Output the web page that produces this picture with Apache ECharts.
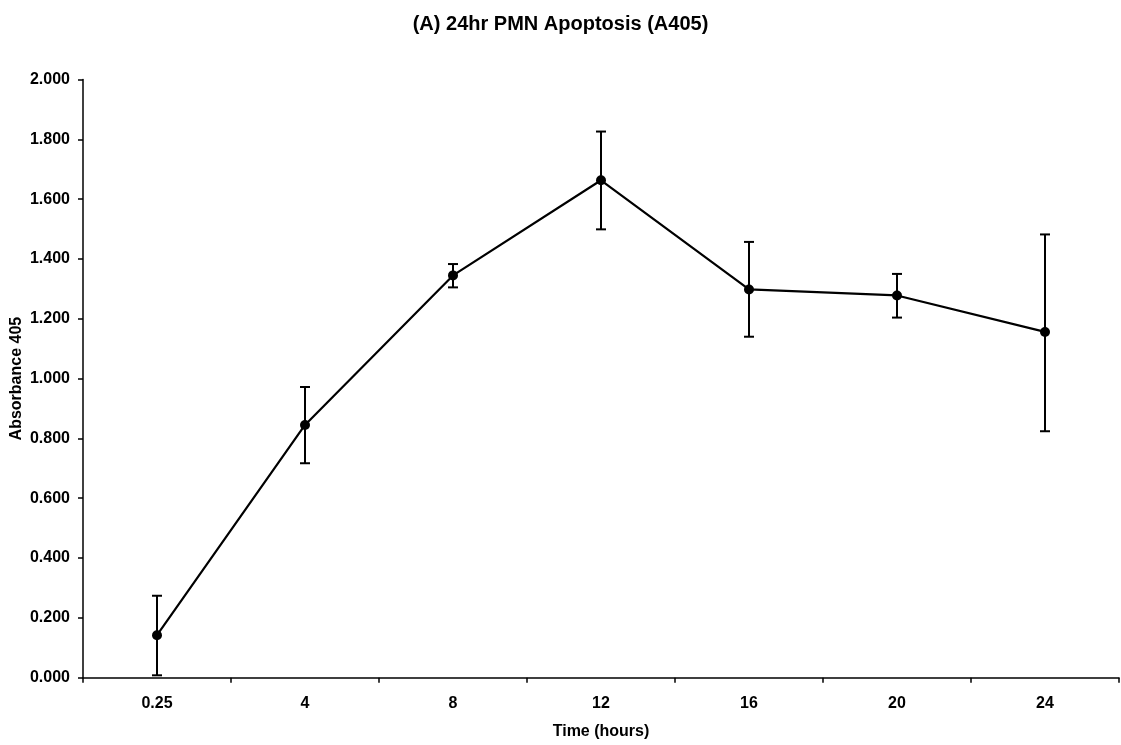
<!DOCTYPE html>
<html>
<head>
<meta charset="utf-8">
<script src="https://cdn.jsdelivr.net/npm/echarts@6/dist/echarts.min.js"></script>
<style>
html,body{margin:0;padding:0;background:#fff;}
#chart{width:1121px;height:745px;}
</style>
</head>
<body>
<div id="chart"></div>
<script>
const categories = ['0.25', '4', '8', '12', '16', '20', '24'];
const meanValues = [0.142, 0.845, 1.345, 1.663, 1.298, 1.278, 1.156];
const errLow = [0.008, 0.717, 1.305, 1.499, 1.140, 1.204, 0.824];
const errHigh = [0.274, 0.972, 1.383, 1.826, 1.457, 1.350, 1.482];

const FONT = '"Liberation Sans", Arial, Helvetica, sans-serif';
const chart = echarts.init(document.getElementById('chart'), null, {renderer: 'canvas'});

const errData = categories.map((c, i) => [i, errLow[i], errHigh[i]]);

chart.setOption({
  animation: false,
  backgroundColor: '#fff',
  title: {
    text: '(A) 24hr PMN Apoptosis (A405)',
    left: 'center',
    top: 9,
    textStyle: {fontFamily: FONT, fontSize: 20, fontWeight: 'bold', color: '#000'}
  },
  grid: {left: 83, right: 2, top: 79.5, bottom: 67.3, containLabel: false, outerBoundsMode: 'none'},
  xAxis: {
    type: 'category',
    data: categories,
    boundaryGap: true,
    name: 'Time (hours)',
    nameLocation: 'middle',
    nameGap: 46,
    nameMoveOverlap: false,
    nameTextStyle: {fontFamily: FONT, fontSize: 16, fontWeight: 'bold', color: '#000'},
    axisLine: {lineStyle: {color: '#000', width: 1.5}},
    axisTick: {show: true, length: 5, lineStyle: {color: '#000', width: 1.5}},
    axisLabel: {fontFamily: FONT, fontSize: 16, fontWeight: 'bold', color: '#000', margin: 18},
    splitLine: {show: false}
  },
  yAxis: {
    type: 'value',
    min: 0,
    max: 2,
    interval: 0.2,
    name: 'Absorbance 405',
    nameLocation: 'middle',
    nameGap: 58,
    nameMoveOverlap: false,
    nameTextStyle: {fontFamily: FONT, fontSize: 16, fontWeight: 'bold', color: '#000'},
    axisLine: {show: true, lineStyle: {color: '#000', width: 1.5}},
    axisTick: {show: true, length: 5, lineStyle: {color: '#000', width: 1.5}},
    axisLabel: {fontFamily: FONT, fontSize: 16, fontWeight: 'bold', color: '#000', margin: 13,
      formatter: v => v.toFixed(3)},
    splitLine: {show: false}
  },
  series: [
    {
      type: 'custom',
      data: errData,
      z: 3,
      renderItem: function (params, api) {
        const x = api.value(0);
        const lo = api.coord([x, api.value(1)]);
        const hi = api.coord([x, api.value(2)]);
        const hw = 5;
        const style = {stroke: '#000', lineWidth: 2, fill: null};
        return {
          type: 'group',
          children: [
            {type: 'line', shape: {x1: hi[0], y1: hi[1], x2: lo[0], y2: lo[1]}, style: style},
            {type: 'line', shape: {x1: hi[0] - hw, y1: hi[1], x2: hi[0] + hw, y2: hi[1]}, style: style},
            {type: 'line', shape: {x1: lo[0] - hw, y1: lo[1], x2: lo[0] + hw, y2: lo[1]}, style: style}
          ]
        };
      }
    },
    {
      type: 'line',
      data: meanValues,
      z: 4,
      symbol: 'circle',
      symbolSize: 10,
      lineStyle: {color: '#000', width: 2.2},
      itemStyle: {color: '#000', borderWidth: 0}
    }
  ]
});
</script>
</body>
</html>
